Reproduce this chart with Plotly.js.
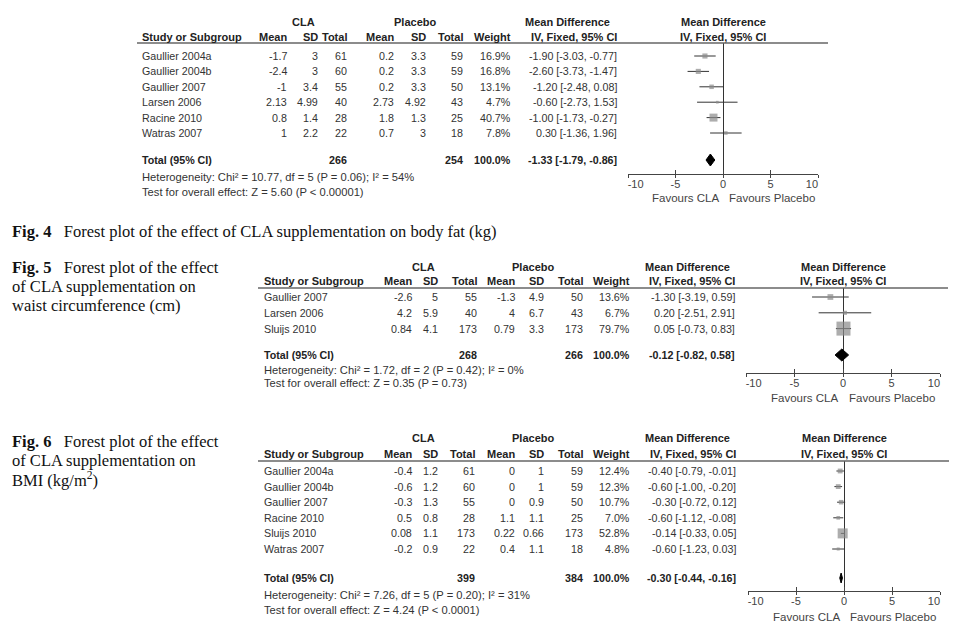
<!DOCTYPE html>
<html><head><meta charset="utf-8">
<script src="https://cdn.plot.ly/plotly-3.0.1.min.js"></script>
<style>html,body{margin:0;padding:0;background:#fff;}#chart{width:967px;height:642px;}</style>
</head><body><div id="chart"></div>
<script>
// ================= DATA =================
// Fig. 4 – body fat (kg)
const fig4Studies = ["Gaullier 2004a","Gaullier 2004b","Gaullier 2007","Larsen 2006","Racine 2010","Watras 2007"];
const fig4ClaMean = [-1.7,-2.4,-1,2.13,0.8,1];
const fig4ClaSD   = [3,3,3.4,4.99,1.4,2.2];
const fig4ClaN    = [61,60,55,40,28,22];
const fig4PlaMean = [0.2,0.2,0.2,2.73,1.8,0.7];
const fig4PlaSD   = [3.3,3.3,3.3,4.92,1.3,3];
const fig4PlaN    = [59,59,50,43,25,18];
const fig4Weight  = [16.9,16.8,13.1,4.7,40.7,7.8];
const fig4MD      = [-1.90,-2.60,-1.20,-0.60,-1.00,0.30];
const fig4Lo      = [-3.03,-3.73,-2.48,-2.73,-1.73,-1.36];
const fig4Hi      = [-0.77,-1.47,0.08,1.53,-0.27,1.96];
const fig4TotalN  = [266,254];
const fig4TotalMD = [-1.33,-1.79,-0.86];
const fig4Het  = "Heterogeneity: Chi² = 10.77, df = 5 (P = 0.06); I² = 54%";
const fig4Test = "Test for overall effect: Z = 5.60 (P < 0.00001)";

// Fig. 5 – waist circumference (cm)
const fig5Studies = ["Gaullier 2007","Larsen 2006","Sluijs 2010"];
const fig5ClaMean = [-2.6,4.2,0.84];
const fig5ClaSD   = [5,5.9,4.1];
const fig5ClaN    = [55,40,173];
const fig5PlaMean = [-1.3,4,0.79];
const fig5PlaSD   = [4.9,6.7,3.3];
const fig5PlaN    = [50,43,173];
const fig5Weight  = [13.6,6.7,79.7];
const fig5MD      = [-1.30,0.20,0.05];
const fig5Lo      = [-3.19,-2.51,-0.73];
const fig5Hi      = [0.59,2.91,0.83];
const fig5TotalN  = [268,266];
const fig5TotalMD = [-0.12,-0.82,0.58];
const fig5Het  = "Heterogeneity: Chi² = 1.72, df = 2 (P = 0.42); I² = 0%";
const fig5Test = "Test for overall effect: Z = 0.35 (P = 0.73)";

// Fig. 6 – BMI (kg/m2)
const fig6Studies = ["Gaullier 2004a","Gaullier 2004b","Gaullier 2007","Racine 2010","Sluijs 2010","Watras 2007"];
const fig6ClaMean = [-0.4,-0.6,-0.3,0.5,0.08,-0.2];
const fig6ClaSD   = [1.2,1.2,1.3,0.8,1.1,0.9];
const fig6ClaN    = [61,60,55,28,173,22];
const fig6PlaMean = [0,0,0,1.1,0.22,0.4];
const fig6PlaSD   = [1,1,0.9,1.1,0.66,1.1];
const fig6PlaN    = [59,59,50,25,173,18];
const fig6Weight  = [12.4,12.3,10.7,7.0,52.8,4.8];
const fig6MD      = [-0.40,-0.60,-0.30,-0.60,-0.14,-0.60];
const fig6Lo      = [-0.79,-1.00,-0.72,-1.12,-0.33,-1.23];
const fig6Hi      = [-0.01,-0.20,0.12,-0.08,0.05,0.03];
const fig6TotalN  = [399,384];
const fig6TotalMD = [-0.30,-0.44,-0.16];
const fig6Het  = "Heterogeneity: Chi² = 7.26, df = 5 (P = 0.20); I² = 31%";
const fig6Test = "Test for overall effect: Z = 4.24 (P < 0.0001)";

const tickVals = [-10,-5,0,5,10];
const tickText = ["-10","-5","0","5","10"];
const colHeads = ["Mean","SD","Total","Mean","SD","Total","Weight"];

const caption4 = ["<b>Fig. 4</b>\u2002 Forest plot of the effect of CLA supplementation on body fat (kg)"];
const caption5 = ["<b>Fig. 5</b>\u2002 Forest plot of the effect","of CLA supplementation on","waist circumference (cm)"];
const caption6 = ["<b>Fig. 6</b>\u2002 Forest plot of the effect","of CLA supplementation on","BMI (kg/m<sup>2</sup>)"];

// ================= LAYOUT HELPERS =================
const W = 967, H = 642;
const px = x => x / W, py = y => 1 - y / H;
const SANS = "Liberation Sans, Arial, sans-serif";
const SERIF = "Liberation Serif, Times New Roman, serif";
const annotations = [], shapes = [], traces = [];
const layout = {
  width: W, height: H, margin: {l:0,r:0,t:0,b:0},
  paper_bgcolor: "#fff", plot_bgcolor: "rgba(0,0,0,0)", showlegend: false,
  annotations, shapes
};
function txt(x, y, text, anchor, opt) {
  opt = opt || {};
  annotations.push({
    xref:"paper", yref:"paper", x: px(x), y: py(y), text: text,
    showarrow:false, xanchor: anchor || "left", yanchor:"middle", borderpad:0,
    font:{family: opt.family || SANS, size: opt.size || 10.7, color: opt.color || "#333"}
  });
}
const fmt2 = v => v.toFixed(2);
const ciStr = (m, l, h) => fmt2(m) + " [" + fmt2(l) + ", " + fmt2(h) + "]";
// end tick labels sit inside the axis ends (RevMan style): pad with no-break spaces
const NB = "\u00a0";
const tickLabels = tickText.map((s, i) =>
  i === 0 ? NB.repeat(5) + s : (i === tickText.length - 1 ? s + NB.repeat(4) : s));

function panel(k, d, g) {
  const sfx = k === 1 ? "" : String(k);
  const rowPx = i => g.rowTop + i * g.rowStep;
  const totIdx = (g.totalPx - g.rowTop) / g.rowStep;
  const yTop = (g.lineY - g.rowTop) / g.rowStep;
  const yBot = (g.axisY - g.rowTop) / g.rowStep;
  const plotMid = (g.x0 + g.x1) / 2;

  layout["xaxis" + sfx] = {
    domain:[px(g.x0), px(g.x1)], range:[-10,10], anchor:"y" + sfx,
    tickmode:"array", tickvals:tickVals, ticktext:tickLabels,
    ticks:"inside", ticklen:4, tickcolor:"#444", tickwidth:1,
    showline:true, linecolor:"#444", linewidth:1,
    zeroline:true, zerolinecolor:"#333", zerolinewidth:1,
    showgrid:false, fixedrange:true,
    tickfont:{family:SANS, size:11, color:"#444"}
  };
  layout["xaxis" + (k + 3)] = {
    overlaying:"x" + sfx, anchor:"y" + sfx, range:[-10,10],
    tickmode:"array", tickvals:tickVals, ticktext:tickText, ticks:"outside", ticklen:3,
    tickcolor:"#444", tickwidth:1, showticklabels:false,
    showline:false, zeroline:false, showgrid:false, fixedrange:true
  };
  layout["yaxis" + sfx] = {
    domain:[py(g.axisY), py(g.lineY)], range:[yBot, yTop],
    visible:false, fixedrange:true, showgrid:false, zeroline:false
  };

  const idx = d.studies.map((_, i) => i);
  traces.push({
    type:"scatter", mode:"markers", x:d.md, y:idx,
    xaxis:"x" + sfx, yaxis:"y" + sfx, cliponaxis:false, hoverinfo:"skip",
    marker:{symbol:"square", size:d.weight.map(w => g.sqK * Math.sqrt(w)), color:"#8a8a8a", line:{width:0}},
    error_x:{type:"data", symmetric:false,
      array:d.hi.map((h, i) => h - d.md[i]),
      arrayminus:d.lo.map((l, i) => d.md[i] - l),
      color:"#333", thickness:1, width:0}
  });
  // empty trace so the overlay tick axis is drawn
  traces.push({type:"scatter", mode:"markers", x:[], y:[], xaxis:"x" + (k + 3), yaxis:"y" + sfx, hoverinfo:"skip"});
  const t = d.totalMD, hh = g.diaH / g.rowStep;
  traces.push({
    type:"scatter", mode:"lines", x:[t[1], t[0], t[2], t[0], t[1]],
    y:[totIdx, totIdx - hh, totIdx, totIdx + hh, totIdx],
    xaxis:"x" + sfx, yaxis:"y" + sfx, fill:"toself", fillcolor:"#000",
    line:{color:"#000", width:1}, cliponaxis:false, hoverinfo:"skip"
  });

  shapes.push({type:"line", xref:"paper", yref:"paper",
    x0:px(g.lineX0), x1:px(g.lineX1), y0:py(g.lineY), y1:py(g.lineY),
    line:{color:"#666", width:1.5}});

  const B = s => "<b>" + s + "</b>";
  const hc = {color:"#222", size:11};
  txt(g.claX, g.hdr1Y, B("CLA"), "center", hc);
  txt(g.plaX, g.hdr1Y, B("Placebo"), "center", hc);
  txt(g.mdX, g.hdr1Y, B("Mean Difference"), "center", hc);
  txt(plotMid, g.hdr1Y, B("Mean Difference"), "center", hc);
  txt(g.cols[0], g.hdr2Y, B("Study or Subgroup"), "left", hc);
  colHeads.forEach((h, j) => txt(g.cols[j + 1], g.hdr2Y, B(h), "right", hc));
  txt(g.cols[8], g.hdr2Y, B("IV, Fixed, 95% CI"), "right", hc);
  txt(plotMid, g.hdr2Y, B("IV, Fixed, 95% CI"), "center", hc);

  d.studies.forEach((s, i) => {
    const y = rowPx(i);
    txt(g.cols[0], y, s, "left");
    const vals = [d.claMean[i], d.claSD[i], d.claN[i], d.plaMean[i], d.plaSD[i], d.plaN[i]];
    vals.forEach((v, j) => txt(g.cols[j + 1], y, String(v), "right"));
    txt(g.cols[7], y, d.weight[i].toFixed(1) + "%", "right");
    txt(g.cols[8], y, ciStr(d.md[i], d.lo[i], d.hi[i]), "right");
  });
  const ty = rowPx(totIdx);
  const tc = {color:"#222", size:10.7};
  txt(g.cols[0], ty, B("Total (95% CI)"), "left", tc);
  txt(g.cols[3], ty, B(String(d.totalN[0])), "right", tc);
  txt(g.cols[6], ty, B(String(d.totalN[1])), "right", tc);
  txt(g.cols[7], ty, B("100.0%"), "right", tc);
  txt(g.cols[8], ty, B(ciStr(t[0], t[1], t[2])), "right", tc);
  txt(g.cols[0], g.hetY, d.het, "left", {size:11.2});
  txt(g.cols[0], g.testY, d.test, "left", {size:11.2});
  txt(g.favCLA, g.favY, "Favours CLA", "center", {size:11.5, color:"#444"});
  txt(g.favPla, g.favY, "Favours Placebo", "center", {size:11.5, color:"#444"});
}

panel(1, {studies:fig4Studies, claMean:fig4ClaMean, claSD:fig4ClaSD, claN:fig4ClaN,
  plaMean:fig4PlaMean, plaSD:fig4PlaSD, plaN:fig4PlaN, weight:fig4Weight,
  md:fig4MD, lo:fig4Lo, hi:fig4Hi, totalN:fig4TotalN, totalMD:fig4TotalMD, het:fig4Het, test:fig4Test},
  {rowTop:56, rowStep:15.4, totalPx:160, lineY:43, axisY:174, x0:628, x1:818,
   hdr1Y:22, hdr2Y:37, hetY:177, testY:192, favY:198, favCLA:685, favPla:772,
   cols:[141,288,319,348,395,427,464,512,618], claX:303, plaX:415, mdX:567,
   lineX0:137, lineX1:828, sqK:1.25, diaH:6});

panel(2, {studies:fig5Studies, claMean:fig5ClaMean, claSD:fig5ClaSD, claN:fig5ClaN,
  plaMean:fig5PlaMean, plaSD:fig5PlaSD, plaN:fig5PlaN, weight:fig5Weight,
  md:fig5MD, lo:fig5Lo, hi:fig5Hi, totalN:fig5TotalN, totalMD:fig5TotalMD, het:fig5Het, test:fig5Test},
  {rowTop:297, rowStep:15.8, totalPx:355, lineY:288, axisY:373, x0:746, x1:940,
   hdr1Y:267, hdr2Y:281, hetY:370, testY:383, favY:398, favCLA:804, favPla:892,
   cols:[263,413,439,478,516,545,584,631,736], claX:423, plaX:533, mdX:687,
   lineX0:258, lineX1:948, sqK:1.57, diaH:6});

panel(3, {studies:fig6Studies, claMean:fig6ClaMean, claSD:fig6ClaSD, claN:fig6ClaN,
  plaMean:fig6PlaMean, plaSD:fig6PlaSD, plaN:fig6PlaN, weight:fig6Weight,
  md:fig6MD, lo:fig6Lo, hi:fig6Hi, totalN:fig6TotalN, totalMD:fig6TotalMD, het:fig6Het, test:fig6Test},
  {rowTop:471, rowStep:15.6, totalPx:578, lineY:461, axisY:591, x0:748, x1:940,
   hdr1Y:438, hdr2Y:454, hetY:595, testY:610, favY:617, favCLA:806, favPla:893,
   cols:[263,413,439,476,516,545,584,631,737], claX:423, plaX:533, mdX:687,
   lineX0:258, lineX1:949, sqK:1.38, diaH:5});

// captions
const capFont = {family:SERIF, size:16.5, color:"#111"};
caption4.forEach((s, i) => txt(11, 231 + i * 19.3, s, "left", capFont));
caption5.forEach((s, i) => txt(11, 267 + i * 19.3, s, "left", capFont));
caption6.forEach((s, i) => txt(11, 441 + i * 19.3, s, "left", capFont));

Plotly.newPlot("chart", traces, layout, {displayModeBar:false, staticPlot:true});
</script>
</body></html>
